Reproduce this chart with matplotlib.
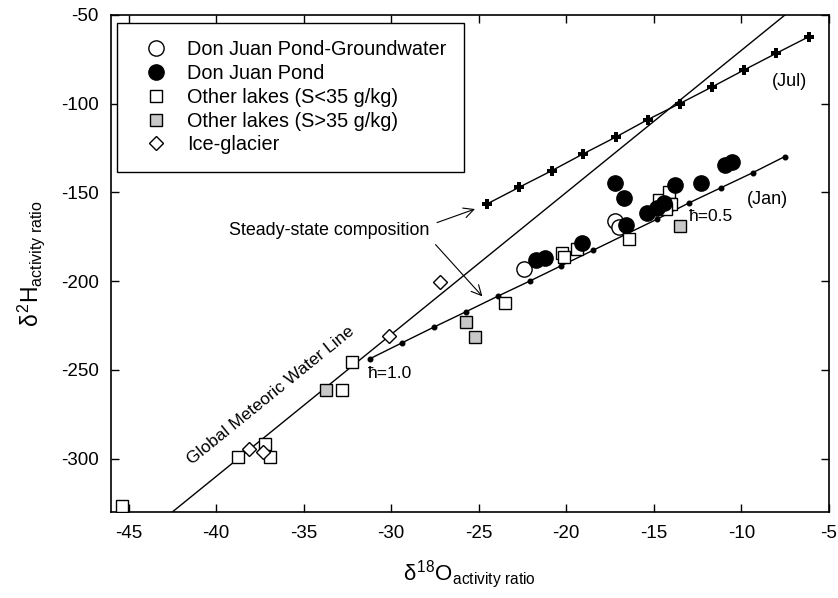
import matplotlib
matplotlib.use("Agg")
import matplotlib.pyplot as plt
import numpy as np

plt.rcParams['font.family'] = ['Liberation Sans', 'DejaVu Sans']
plt.rcParams['mathtext.fontset'] = 'custom'
plt.rcParams['mathtext.rm'] = 'Liberation Sans'
plt.rcParams['mathtext.it'] = 'Liberation Sans'
plt.rcParams['mathtext.bf'] = 'Liberation Sans:bold'

# ---- data ----
gw_x = [-22.4, -17.2, -17.0]
gw_y = [-193.3, -166.0, -169.7]

djp_x = [-21.7, -21.2, -19.1, -17.2, -16.7, -16.6, -15.4, -14.8, -14.4, -13.8, -12.3, -10.9, -10.5]
djp_y = [-188.2, -186.7, -178.2, -144.9, -153.3, -168.2, -161.6, -158.8, -155.9, -145.8, -144.8, -134.3, -133.0]

lo_x = [-45.4, -38.75, -37.2, -36.9, -32.8, -32.25, -23.5, -20.25, -20.1, -19.4, -16.4, -14.7, -14.1, -14.0, -14.3]
lo_y = [-326.6, -298.9, -291.7, -298.9, -261.5, -245.5, -212.3, -183.9, -186.3, -182.0, -176.3, -154.2, -149.9, -156.5, -159.3]

hi_x = [-33.7, -25.7, -25.2, -13.5]
hi_y = [-261.5, -222.9, -231.4, -168.8]

ice_x = [-38.1, -37.3, -30.1, -27.2]
ice_y = [-294.5, -296.4, -230.6, -200.3]

jul_x = [-24.53, -22.69, -20.82, -19.02, -17.17, -15.35, -13.51, -11.66, -9.86, -8.02, -6.15]
jul_y = [-156.5, -147.1, -137.7, -128.2, -118.8, -109.0, -99.9, -90.5, -81.1, -71.7, -62.3]

jan_x = [-31.2, -29.38, -27.57, -25.75, -23.92, -22.08, -20.27, -18.45, -16.66, -14.8, -12.99, -11.15, -9.33, -7.52]
jan_y = [-243.6, -234.7, -225.9, -217.3, -208.5, -199.9, -191.2, -182.5, -173.9, -165.0, -155.9, -147.3, -138.8, -129.8]

gmwl_x = [-46.0, -5.0]
gmwl_slope, gmwl_icpt = 8.0, 10.0

x_ticks = [-45, -40, -35, -30, -25, -20, -15, -10, -5]
y_ticks = [-300, -250, -200, -150, -100, -50]

# ---- figure ----
fig = plt.figure(figsize=(8.38, 5.98), dpi=100)
ax = fig.add_axes([0.1325, 0.1438, 0.8565, 0.8312])

gx = np.array(gmwl_x)
ax.plot(gx, gmwl_slope * gx + gmwl_icpt, color='black', lw=1.0, zorder=2)

ax.plot(jul_x, jul_y, color='black', lw=1.0, marker='P', ms=6.5, mew=0, zorder=2)
ax.plot(jan_x, jan_y, color='black', lw=1.0, marker='o', ms=3.3, zorder=2)

ax.plot(gw_x, gw_y, ls='none', marker='o', ms=11, mfc='white', mec='black', mew=1.0,
        label='Don Juan Pond-Groundwater', zorder=3)
ax.plot(djp_x, djp_y, ls='none', marker='o', ms=11, mfc='black', mec='black', mew=1.0,
        label='Don Juan Pond', zorder=4)
ax.plot(lo_x, lo_y, ls='none', marker='s', ms=9, mfc='white', mec='black', mew=1.0,
        label='Other lakes (S<35 g/kg)', zorder=3)
ax.plot(hi_x, hi_y, ls='none', marker='s', ms=9, mfc='#c8c8c8', mec='black', mew=1.0,
        label='Other lakes (S>35 g/kg)', zorder=3)
ax.plot(ice_x, ice_y, ls='none', marker='D', ms=7.5, mfc='white', mec='black', mew=1.0,
        label='Ice-glacier', zorder=3)

ax.set_xlim(-46, -5)
ax.set_ylim(-330, -50)
ax.set_xticks(x_ticks)
ax.set_yticks(y_ticks)
ax.set_xticklabels([str(t) for t in x_ticks])
ax.set_yticklabels([str(t) for t in y_ticks])
ax.tick_params(direction='in', top=True, right=True, length=6, width=1.0,
               labelsize=13.5, pad=9)
for s in ax.spines.values():
    s.set_linewidth(1.2)

ax.set_xlabel(r'$\delta^{18}$O$_{\mathrm{activity\ ratio}}$', fontsize=16, labelpad=12)
ax.set_ylabel(r'$\delta^{2}$H$_{\mathrm{activity\ ratio}}$', fontsize=16.5, labelpad=10)

# annotations
ax.text(-36.9, -264.4, 'Global Meteoric Water Line', rotation=39, ha='center', va='center',
        fontsize=12.5)
ax.text(-27.8, -171.5, 'Steady-state composition', ha='right', va='center', fontsize=12.9)
ax.annotate('', xy=(-25.06, -158.8), xytext=(-27.53, -167.5),
            arrowprops=dict(arrowstyle='->', lw=0.8, color='black', mutation_scale=18))
ax.annotate('', xy=(-24.68, -209.7), xytext=(-27.57, -178.2),
            arrowprops=dict(arrowstyle='->', lw=0.8, color='black', mutation_scale=18))
ax.text(-8.26, -87.5, '(Jul)', ha='left', va='center', fontsize=13)
ax.text(-9.67, -154.0, '(Jan)', ha='left', va='center', fontsize=13)
ax.text(-31.33, -251.7, 'ħ=1.0', ha='left', va='center', fontsize=12.5)
ax.text(-12.99, -163.3, 'ħ=0.5', ha='left', va='center', fontsize=12.5)

leg = ax.legend(loc='upper left', bbox_to_anchor=(0.0084, 0.984), borderaxespad=0,
                fontsize=14.3, frameon=True, fancybox=False, edgecolor='black',
                handlelength=2.2, handletextpad=0.45, borderpad=0.88, labelspacing=0.24,
                numpoints=1)
leg.get_frame().set_linewidth(1.0)
leg.get_frame().set_alpha(1)

fig.savefig('out.png', dpi=100)
